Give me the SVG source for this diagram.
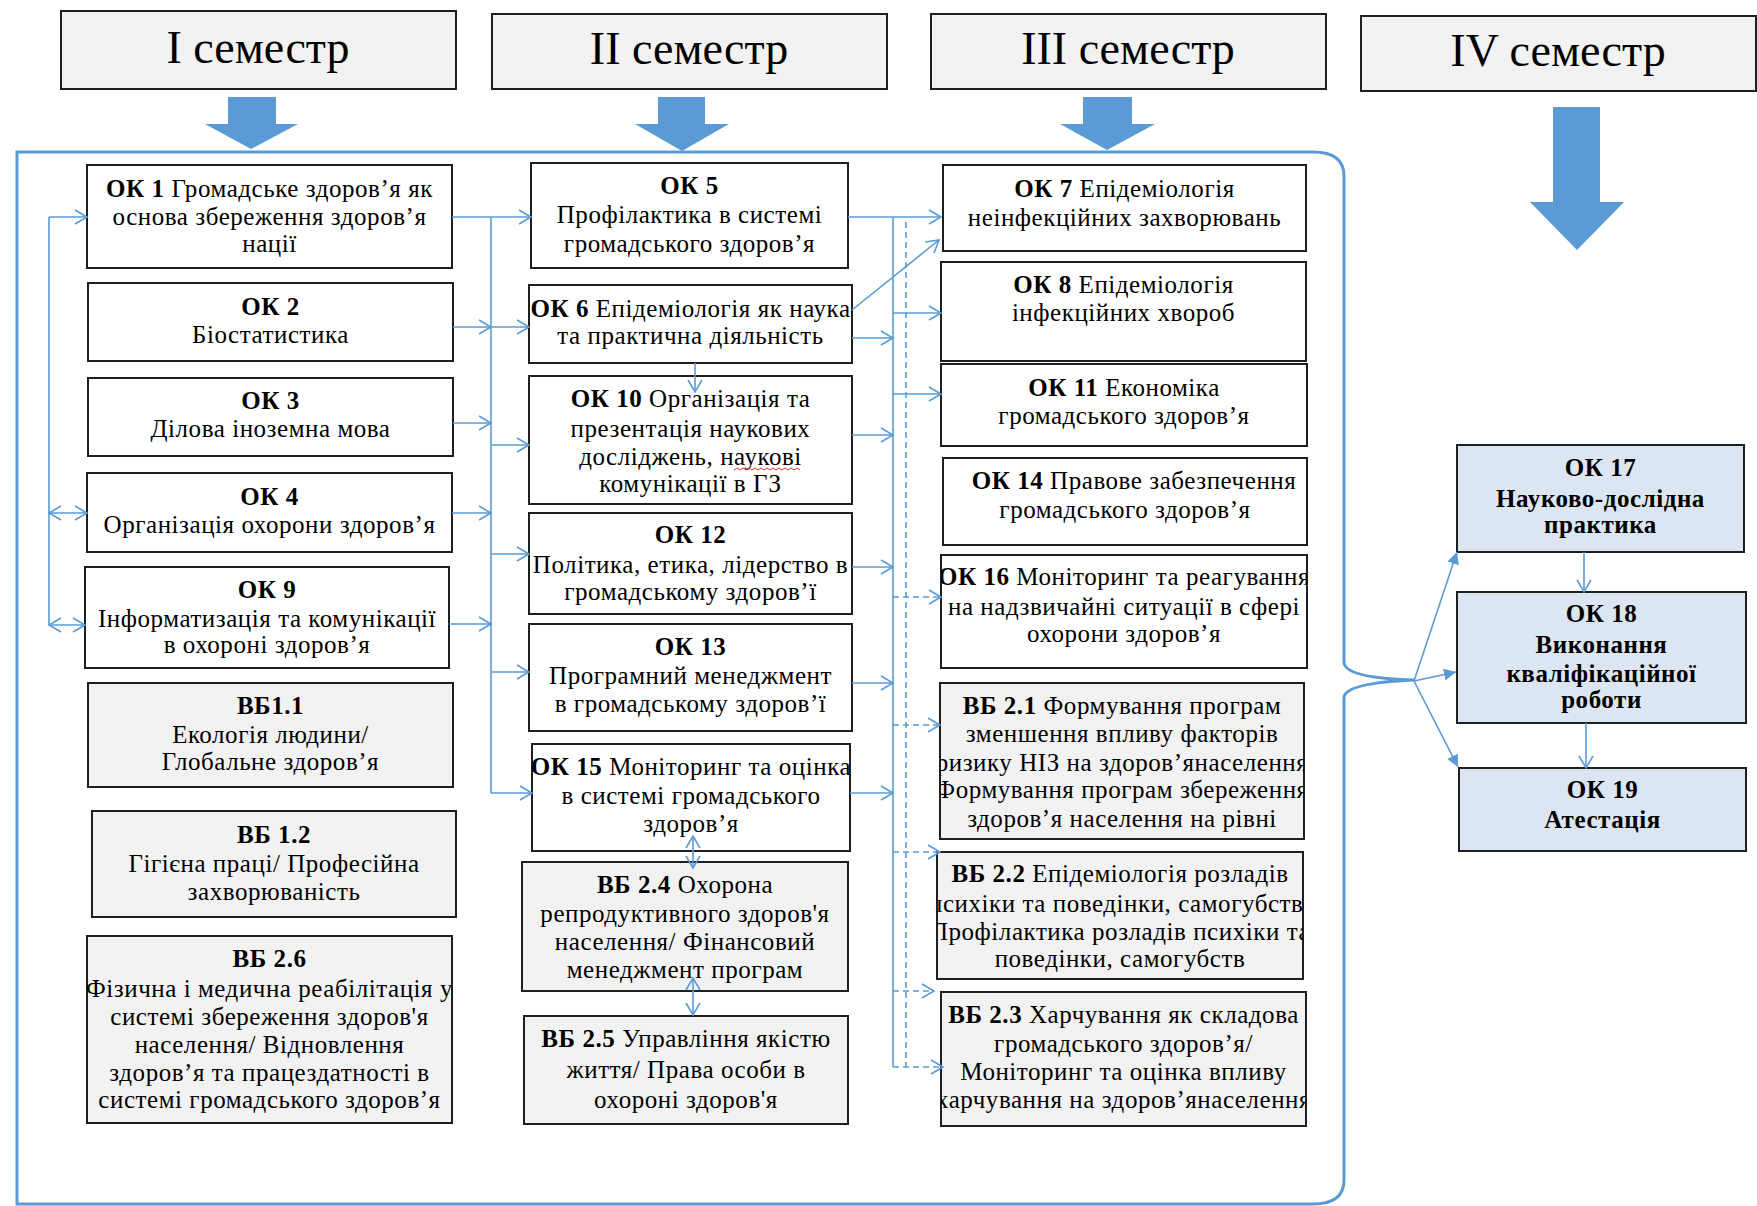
<svg xmlns="http://www.w3.org/2000/svg" width="1757" height="1206" viewBox="0 0 1757 1206">
<style>
.box{stroke:#1f1f1f;stroke-width:2}
.w{fill:#ffffff}.g{fill:#f2f2f2}.bl{fill:#dce6f2}
text{font-family:"Liberation Serif","Times New Roman",serif;font-size:25px;letter-spacing:0.55px;fill:#000;text-anchor:middle}
text.sem{font-size:46px;letter-spacing:0}
.bd{font-weight:bold}
.c{stroke:#5b9bd5;stroke-width:1.6;fill:none}
.d{stroke-dasharray:6 4}
.big{fill:#5b9bd5}
.brk{stroke:#5b9bd5;stroke-width:3;fill:none}
</style>
<defs>
<marker id="o" markerUnits="userSpaceOnUse" markerWidth="16" markerHeight="18" refX="13" refY="8" orient="auto-start-reverse">
<path d="M1,1 L13,8 L1,15" fill="none" stroke="#5b9bd5" stroke-width="1.6"/>
</marker>
<marker id="t" markerUnits="userSpaceOnUse" markerWidth="14" markerHeight="12" refX="12" refY="6" orient="auto">
<path d="M0,0 L12,6 L0,12 Z" fill="#5b9bd5"/>
</marker>
<clipPath id="cOK9"><rect x="85" y="567" width="364" height="101"/></clipPath>
<clipPath id="cOK16"><rect x="941" y="555" width="366" height="113"/></clipPath>
<clipPath id="cOK15"><rect x="532" y="744" width="318" height="107"/></clipPath>
<clipPath id="cVB21"><rect x="940" y="683" width="364" height="156"/></clipPath>
<clipPath id="cVB22"><rect x="937" y="852" width="366" height="127"/></clipPath>
<clipPath id="cVB23"><rect x="941" y="992" width="365" height="134"/></clipPath>
<clipPath id="cVB26"><rect x="87" y="936" width="365" height="187"/></clipPath>
</defs>

<!-- semester headers -->
<g id="sem1"><rect class="box g" x="61" y="11" width="395" height="78"/><text class="sem" x="258" y="63">I семестр</text></g>
<g id="sem2"><rect class="box g" x="492" y="14" width="395" height="75"/><text class="sem" x="689" y="64">II семестр</text></g>
<g id="sem3"><rect class="box g" x="931" y="14" width="395" height="75"/><text class="sem" x="1128" y="64">III семестр</text></g>
<g id="sem4"><rect class="box g" x="1361" y="16" width="395" height="75"/><text class="sem" x="1558" y="66">IV семестр</text></g>

<!-- big arrows -->
<g id="bigArrows">
<path class="big" d="M228,97 H276 V124 H298 L251,149 L205,124 H228 Z"/>
<path class="big" d="M658,97 H705 V124 H729 L682,151 L635,124 H658 Z"/>
<path class="big" d="M1083,97 H1132 V124 H1155 L1107,150 L1060,124 H1083 Z"/>
<path class="big" d="M1553,107 H1600 V202 H1624 L1577,250 L1530,202 H1553 Z"/>
</g>

<!-- bracket -->
<path id="bracket" class="brk" d="M17,152 H1313 Q1344,152 1344,176 V662 Q1344,678 1414,680 Q1344,683 1344,698 V1180 Q1344,1204 1313,1204 H17 Z"/>

<!-- column 1 -->
<g id="OK1"><rect class="box w" x="87" y="165" width="365" height="103"/>
<text x="269.5" y="197"><tspan class="bd">ОК 1</tspan>  Громадське здоров’я як</text>
<text x="269.5" y="225">основа збереження здоров’я</text>
<text x="269.5" y="252">нації</text></g>
<g id="OK2"><rect class="box w" x="88" y="283" width="365" height="78"/>
<text class="bd" x="270.5" y="315">ОК 2</text>
<text x="270.5" y="343">Біостатистика</text></g>
<g id="OK3"><rect class="box w" x="88" y="378" width="365" height="78"/>
<text class="bd" x="270.5" y="409">ОК 3</text>
<text x="270.5" y="437">Ділова іноземна мова</text></g>
<g id="OK4"><rect class="box w" x="87" y="473" width="365" height="79"/>
<text class="bd" x="269.5" y="505">ОК 4</text>
<text x="269.5" y="533">Організація охорони здоров’я</text></g>
<g id="OK9"><rect class="box w" x="85" y="567" width="364" height="101"/>
<g clip-path="url(#cOK9)">
<text class="bd" x="267" y="598">ОК 9</text>
<text x="267" y="627">Інформатизація та комунікації</text>
<text x="267" y="653">в охороні здоров’я</text></g></g>
<g id="VB11"><rect class="box g" x="88" y="683" width="365" height="104"/>
<text class="bd" x="270.5" y="714">ВБ1.1</text>
<text x="270.5" y="743">Екологія людини/</text>
<text x="270.5" y="770">Глобальне здоров’я</text></g>
<g id="VB12"><rect class="box g" x="92" y="811" width="364" height="106"/>
<text class="bd" x="274" y="843">ВБ 1.2</text>
<text x="274" y="872">Гігієна праці/ Професійна</text>
<text x="274" y="900">захворюваність</text></g>
<g id="VB26"><rect class="box g" x="87" y="936" width="365" height="187"/>
<g clip-path="url(#cVB26)">
<text class="bd" x="269.5" y="967">ВБ 2.6</text>
<text x="269.5" y="997">Фізична і медична реабілітація у</text>
<text x="269.5" y="1025">системі збереження здоров'я</text>
<text x="269.5" y="1053">населення/ Відновлення</text>
<text x="269.5" y="1081">здоров’я та працездатності в</text>
<text x="269.5" y="1108">системі громадського здоров’я</text></g></g>

<!-- column 2 -->
<g id="OK5"><rect class="box w" x="531" y="163" width="317" height="105"/>
<text class="bd" x="689.5" y="194">ОК 5</text>
<text x="689.5" y="223">Профілактика в системі</text>
<text x="689.5" y="252">громадського здоров’я</text></g>
<g id="OK6"><rect class="box w" x="529" y="285" width="323" height="78"/>
<text x="690.5" y="317"><tspan class="bd">ОК 6</tspan>  Епідеміологія як наука</text>
<text x="690.5" y="344">та практична діяльність</text></g>
<g id="OK10"><rect class="box w" x="529" y="376" width="323" height="128"/>
<text x="690.5" y="407"><tspan class="bd">ОК 10</tspan> Організація та</text>
<text x="690.5" y="437">презентація наукових</text>
<text x="690.5" y="465">досліджень, наукові</text>
<path d="M734,470 l3,-2 l3,2 l3,-2 l3,2 l3,-2 l3,2 l3,-2 l3,2 l3,-2 l3,2 l3,-2 l3,2 l3,-2 l3,2 l3,-2 l3,2 l3,-2 l3,2 l3,-2 l3,2 l3,-2 l3,2" fill="none" stroke="#e03030" stroke-width="1"/>
<text x="690.5" y="492">комунікації в ГЗ</text></g>
<g id="OK12"><rect class="box w" x="529" y="513" width="323" height="101"/>
<text class="bd" x="690.5" y="543">ОК 12</text>
<text x="690.5" y="573">Політика, етика, лідерство в</text>
<text x="690.5" y="600">громадському здоров’ї</text></g>
<g id="OK13"><rect class="box w" x="529" y="624" width="323" height="107"/>
<text class="bd" x="690.5" y="655">ОК 13</text>
<text x="690.5" y="684">Програмний менеджмент</text>
<text x="690.5" y="712">в громадському здоров’ї</text></g>
<g id="OK15"><rect class="box w" x="532" y="744" width="318" height="107"/>
<g clip-path="url(#cOK15)">
<text x="691" y="775"><tspan class="bd">ОК 15</tspan>  Моніторинг та оцінка</text>
<text x="691" y="804">в системі громадського</text>
<text x="691" y="832">здоров’я</text></g></g>
<g id="VB24"><rect class="box g" x="522" y="862" width="326" height="129"/>
<text x="685" y="893"><tspan class="bd">ВБ 2.4</tspan>  Охорона</text>
<text x="685" y="922">репродуктивного здоров'я</text>
<text x="685" y="950">населення/ Фінансовий</text>
<text x="685" y="978">менеджмент програм</text></g>
<g id="VB25"><rect class="box g" x="524" y="1016" width="324" height="108"/>
<text x="686" y="1047"><tspan class="bd">ВБ 2.5</tspan>  Управління якістю</text>
<text x="686" y="1078">життя/  Права особи в</text>
<text x="686" y="1108">охороні здоров'я</text></g>

<!-- column 3 -->
<g id="OK7"><rect class="box w" x="943" y="165" width="363" height="86"/>
<text x="1124.5" y="197"><tspan class="bd">ОК 7</tspan>  Епідеміологія</text>
<text x="1124.5" y="226">неінфекційних захворювань</text></g>
<g id="OK8"><rect class="box w" x="941" y="262" width="365" height="99"/>
<text x="1123.5" y="293"><tspan class="bd">ОК 8</tspan>  Епідеміологія</text>
<text x="1123.5" y="321">інфекційних хвороб</text></g>
<g id="OK11"><rect class="box w" x="941" y="364" width="366" height="82"/>
<text x="1124" y="396"><tspan class="bd">ОК 11</tspan>  Економіка</text>
<text x="1124" y="424">громадського здоров’я</text></g>
<g id="OK14"><rect class="box w" x="943" y="458" width="364" height="87"/>
<text x="1134" y="489"><tspan class="bd">ОК 14</tspan>  Правове забезпечення</text>
<text x="1125" y="518">громадського здоров’я</text></g>
<g id="OK16"><rect class="box w" x="941" y="555" width="366" height="113"/>
<g clip-path="url(#cOK16)">
<text x="1124" y="585"><tspan class="bd">ОК 16</tspan> Моніторинг та реагування</text>
<text x="1124" y="615">на надзвичайні ситуації в сфері</text>
<text x="1124" y="642">охорони здоров’я</text></g></g>
<g id="VB21"><rect class="box g" x="940" y="683" width="364" height="156"/>
<g clip-path="url(#cVB21)">
<text x="1122" y="714"><tspan class="bd">ВБ 2.1</tspan>   Формування програм</text>
<text x="1122" y="742">зменшення впливу факторів</text>
<text x="1122" y="771">ризику НІЗ на здоров’янаселення</text>
<text x="1122" y="798">Формування програм збереження</text>
<text x="1122" y="827">здоров’я населення на рівні</text></g></g>
<g id="VB22"><rect class="box g" x="937" y="852" width="366" height="127"/>
<g clip-path="url(#cVB22)">
<text x="1120" y="882"><tspan class="bd">ВБ 2.2</tspan>  Епідеміологія розладів</text>
<text x="1120" y="912">психіки та поведінки, самогубств/</text>
<text x="1120" y="940">Профілактика розладів психіки та</text>
<text x="1120" y="967">поведінки, самогубств</text></g></g>
<g id="VB23"><rect class="box g" x="941" y="992" width="365" height="134"/>
<g clip-path="url(#cVB23)">
<text x="1123.5" y="1023"><tspan class="bd">ВБ 2.3</tspan>  Харчування як складова</text>
<text x="1123.5" y="1052">громадського здоров’я/</text>
<text x="1123.5" y="1080">Моніторинг та оцінка впливу</text>
<text x="1123.5" y="1108">харчування на здоров’янаселення</text></g></g>

<!-- column 4 -->
<g id="OK17"><rect class="box bl" x="1457" y="445" width="287" height="107"/>
<text class="bd" x="1600.5" y="476">ОК 17</text>
<text class="bd" x="1600.5" y="507">Науково-дослідна</text>
<text class="bd" x="1600.5" y="533">практика</text></g>
<g id="OK18"><rect class="box bl" x="1457" y="592" width="289" height="131"/>
<text class="bd" x="1601.5" y="622">ОК 18</text>
<text class="bd" x="1601.5" y="653">Виконання</text>
<text class="bd" x="1601.5" y="682">кваліфікаційної</text>
<text class="bd" x="1601.5" y="708">роботи</text></g>
<g id="OK19"><rect class="box bl" x="1459" y="768" width="287" height="83"/>
<text class="bd" x="1602.5" y="798">ОК 19</text>
<text class="bd" x="1602.5" y="828">Атестація</text></g>

<!-- connectors -->
<g id="connectors">
<path class="c" d="M49,217 V625"/>
<path class="c" d="M49,217 H87" marker-end="url(#o)"/>
<path class="c" d="M49,513 H87" marker-start="url(#o)" marker-end="url(#o)"/>
<path class="c" d="M49,625 H85" marker-start="url(#o)" marker-end="url(#o)"/>
<path class="c" d="M491,217 V793"/>
<path class="c" d="M452,217 H531" marker-end="url(#o)"/>
<path class="c" d="M453,327 H491" marker-end="url(#o)"/>
<path class="c" d="M491,327 H529" marker-end="url(#o)"/>
<path class="c" d="M453,423 H491" marker-end="url(#o)"/>
<path class="c" d="M452,513 H491" marker-end="url(#o)"/>
<path class="c" d="M449,624 H491" marker-end="url(#o)"/>
<path class="c" d="M491,445 H529" marker-end="url(#o)"/>
<path class="c" d="M491,554 H529" marker-end="url(#o)"/>
<path class="c" d="M491,672 H529" marker-end="url(#o)"/>
<path class="c" d="M491,793 H532" marker-end="url(#o)"/>
<path class="c" d="M695,363 V392" marker-end="url(#o)"/>
<path class="c" d="M693,836 V868" marker-start="url(#o)" marker-end="url(#o)"/>
<path class="c" d="M693,978 V1015" marker-start="url(#o)" marker-end="url(#o)"/>
<path class="c" d="M893,217 V1067"/>
<path class="c d" d="M906,222 V1067"/>
<path class="c" d="M848,217 H941" marker-end="url(#o)"/>
<path class="c" d="M852,310 L939,240" marker-end="url(#o)"/>
<path class="c" d="M852,338 H893" marker-end="url(#o)"/>
<path class="c" d="M893,313 H941" marker-end="url(#o)"/>
<path class="c" d="M893,394 H941" marker-end="url(#o)"/>
<path class="c" d="M852,435 H893" marker-end="url(#o)"/>
<path class="c" d="M852,567 H893" marker-end="url(#o)"/>
<path class="c" d="M852,683 H893" marker-end="url(#o)"/>
<path class="c" d="M850,793 H893" marker-end="url(#o)"/>
<path class="c d" d="M893,597 H941" marker-end="url(#o)"/>
<path class="c d" d="M893,725 H940" marker-end="url(#o)"/>
<path class="c d" d="M893,852 H940" marker-end="url(#o)"/>
<path class="c d" d="M893,991 H934" marker-end="url(#o)"/>
<path class="c d" d="M893,1067 H943" marker-end="url(#o)"/>
<path class="c" d="M1414,681 L1457,552" marker-end="url(#t)"/>
<path class="c" d="M1414,681 L1456,672" marker-end="url(#t)"/>
<path class="c" d="M1414,681 L1458,767" marker-end="url(#t)"/>
<path class="c" d="M1584,552 V592" marker-end="url(#o)"/>
<path class="c" d="M1586,723 V768" marker-end="url(#o)"/>
</g>
</svg>
